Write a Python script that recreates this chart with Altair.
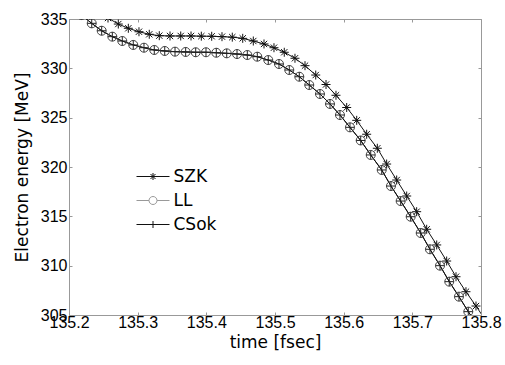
import altair as alt
import pandas as pd

# ---- data ----
series = ["SZK", "LL", "CSok"]

t_szk = [135.2568, 135.2718, 135.2864, 135.3019, 135.3169, 135.3315, 135.3471, 135.3627,
         135.3777, 135.3927, 135.4078, 135.4228, 135.4378, 135.4530, 135.4684, 135.4840,
         135.4985, 135.5135, 135.5291, 135.5437, 135.5593, 135.5743, 135.5888, 135.6044,
         135.6190, 135.6335, 135.6490, 135.6626, 135.6772, 135.6918, 135.7063, 135.7209,
         135.7355, 135.7500, 135.7636, 135.7781, 135.7927, 135.8073]
e_szk = [335.10, 334.49, 334.06, 333.71, 333.45, 333.31, 333.28, 333.28, 333.28, 333.26,
         333.25, 333.21, 333.16, 333.04, 332.77, 332.47, 332.09, 331.63, 331.02, 330.27,
         329.32, 328.36, 327.27, 326.03, 324.73, 323.32, 321.90, 320.30, 318.68, 317.06,
         315.47, 313.69, 312.10, 310.47, 308.88, 307.36, 305.91, 304.39]

t_ll = [135.2182, 135.2331, 135.2476, 135.2631, 135.2776, 135.2936, 135.3092, 135.3242,
        135.3394, 135.3544, 135.3699, 135.3845, 135.3995, 135.4145, 135.4297, 135.4447,
        135.4597, 135.4742, 135.4902, 135.5058, 135.5208, 135.5354, 135.5499, 135.5655,
        135.5801, 135.5946, 135.6092, 135.6248, 135.6394, 135.6554, 135.6689, 135.6830,
        135.6976, 135.7122, 135.7257, 135.7403, 135.7538, 135.7679, 135.7815, 135.7961]
e_ll = [335.40, 334.56, 333.81, 333.21, 332.77, 332.37, 332.09, 331.86, 331.76, 331.69,
        331.66, 331.63, 331.63, 331.58, 331.52, 331.45, 331.35, 331.18, 330.84, 330.44,
        329.83, 329.15, 328.31, 327.40, 326.39, 325.27, 324.02, 322.69, 321.22, 319.70,
        318.07, 316.55, 314.96, 313.31, 311.66, 310.00, 308.38, 306.86, 305.34, 303.80]

# CSok coincides with LL in the reference
t_csok = list(t_ll)
e_csok = list(e_ll)

x_ticks = [135.2, 135.3, 135.4, 135.5, 135.6, 135.7, 135.8]
y_ticks = [305, 310, 315, 320, 325, 330, 335]

rows = []
for name, ts, es in [("SZK", t_szk, e_szk), ("LL", t_ll, e_ll), ("CSok", t_csok, e_csok)]:
    for t, e in zip(ts, es):
        rows.append({"s": name, "t": t, "e": e})
df = pd.DataFrame(rows)

FONT = "Liberation Sans"
TFONT = "DejaVu Sans"
GRAY = "#999999"

xscale = alt.Scale(domain=[135.2, 135.8], nice=False, zero=False)
yscale = alt.Scale(domain=[305, 335], nice=False, zero=False)

# marker shapes (plot)
star = "M-1,0H1M0,-1V1M-0.7,-0.7L0.7,0.7M-0.7,0.7L0.7,-0.7"
plus = "M-1,0H1M0,-1V1"
# legend symbols (line + marker)
lg_star = "M-3.3,0H3.3M0,-0.7V0.7M-0.5,-0.5L0.5,0.5M-0.5,0.5L0.5,-0.5"
lg_circ = "M-3.3,0H-0.8M0.8,0H3.3M0.8,0A0.8,0.8 0 1,1 -0.8,0A0.8,0.8 0 1,1 0.8,0"
lg_plus = "M-3.3,0H3.3M0,-0.7V0.7"

base = alt.Chart(df)

lines = base.mark_line(color="#111111", strokeWidth=1, clip=True).encode(
    x=alt.X("t:Q", scale=xscale,
            axis=alt.Axis(orient="bottom", values=x_ticks, format=".1f", title="time [fsec]",
                          offset=-3, tickSize=3, tickColor=GRAY, domain=False, grid=False,
                          labelPadding=-1, labelFlush=False, labelOverlap=False,
                          labelFont=FONT, labelFontSize=16, labelColor="black",
                          titleFont=TFONT, titleFontSize=17, titleFontWeight="normal",
                          titleColor="black", titleBaseline="alphabetic", titleY=35.5)),
    y=alt.Y("e:Q", scale=yscale,
            axis=alt.Axis(orient="left", values=y_ticks, title="Electron energy [MeV]",
                          offset=-3, tickSize=3, tickColor=GRAY, domain=False, grid=False,
                          labelPadding=2, labelFlush=False, labelOverlap=False,
                          labelFont=FONT, labelFontSize=16, labelColor="black",
                          titleFont=TFONT, titleFontSize=17, titleFontWeight="normal",
                          titleColor="black", titleBaseline="alphabetic",
                          titleX=-45)),
    detail="s:N",
)

points = base.mark_point(filled=False, size=81, strokeWidth=1, opacity=1, clip=True).encode(
    x=alt.X("t:Q", scale=xscale, axis=None),
    y=alt.Y("e:Q", scale=yscale, axis=None),
    shape=alt.Shape("s:N", scale=alt.Scale(domain=series, range=[star, "circle", plus]), legend=None),
    color=alt.Color("s:N", scale=alt.Scale(domain=series, range=["#111111", "#444444", "#222222"]), legend=None),
)

leg = alt.Legend(title=None, orient="none", legendX=75.5, legendY=149, padding=0,
                 symbolSize=100, symbolStrokeWidth=1, labelFont=TFONT, labelFontSize=17,
                 labelColor="black", labelOffset=12, rowPadding=6)

legend_layer = base.transform_filter("datum.t > 999").mark_point(
    filled=False, size=100, strokeWidth=1, opacity=1).encode(
    x=alt.X("t:Q", scale=xscale,
            axis=alt.Axis(orient="top", values=x_ticks, labels=False, title=None, offset=-3,
                          tickSize=3, tickColor=GRAY, domain=False, grid=False)),
    y=alt.Y("e:Q", scale=yscale,
            axis=alt.Axis(orient="right", values=y_ticks, labels=False, title=None, offset=-3,
                          tickSize=3, tickColor=GRAY, domain=False, grid=False)),
    shape=alt.Shape("s:N", scale=alt.Scale(domain=series, range=[lg_star, lg_circ, lg_plus]), legend=leg),
    color=alt.Color("s:N", scale=alt.Scale(domain=series, range=["#111111", "#999999", "#111111"]), legend=leg),
)

chart = alt.layer(lines, points, legend_layer).resolve_axis(
    x="independent", y="independent"
).resolve_scale(
    shape="independent", color="independent"
).properties(
    width=412, height=296,
    autosize=alt.AutoSizeParams(type="none"),
    padding={"left": 69, "top": 19, "right": 24, "bottom": 50},
    background="white",
).configure_view(stroke=GRAY, strokeWidth=1)

chart.save("out.html", embed_options={"renderer": "svg", "actions": False})
